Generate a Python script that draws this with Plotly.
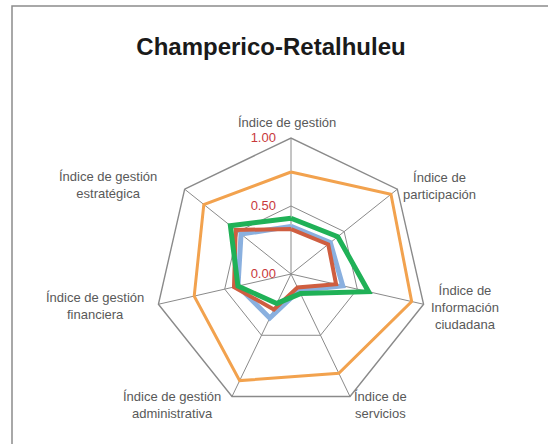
import math
import plotly.graph_objects as go

categories = [
    "Índice de gestión",
    "Índice de<br>participación",
    "Índice de<br>Información<br>ciudadana",
    "Índice de<br>servicios",
    "Índice de gestión<br>administrativa",
    "Índice de gestión<br>financiera",
    "Índice de gestión<br>estratégica",
]
serie_naranja = [0.75, 0.94, 0.91, 0.81, 0.87, 0.73, 0.82]
serie_azul = [0.35, 0.37, 0.39, 0.135, 0.36, 0.40, 0.47]
serie_roja = [0.33, 0.35, 0.34, 0.11, 0.29, 0.43, 0.52]
serie_verde = [0.41, 0.44, 0.585, 0.16, 0.24, 0.40, 0.57]
tick_vals = [0, 0.5, 1.0]
tick_text = ["0.00", "0.50", "1.00"]

W, H = 548, 444
cx, cy, R = 291, 274, 136

fig = go.Figure()
styles = [
    ("Serie 1", serie_naranja, "#F2A24E", 3),
    ("Serie 2", serie_azul, "#8AB0DF", 5),
    ("Serie 3", serie_roja, "#CF5E40", 4),
    ("Serie 4", serie_verde, "#20B157", 5),
]
for name, vals, color, w in styles:
    fig.add_trace(go.Scatterpolar(
        r=vals + vals[:1], theta=categories + categories[:1],
        mode="lines", name=name, line=dict(color=color, width=w),
        hoverinfo="skip",
    ))

# category label placement (anchor, pixel shift from the outer vertex)
label_style = [
    ("center", "bottom", -4, 6),
    ("left", "middle", 4, 3),
    ("left", "middle", 5, -3),
    ("left", "middle", 2, -8),
    ("right", "middle", -9, -8),
    ("right", "middle", -12, -2),
    ("right", "middle", -26, 4),
]
annotations = []
n = len(categories)
for k, (lab, (xa, ya, dx, dy)) in enumerate(zip(categories, label_style)):
    ang = 2 * math.pi * k / n
    vx = cx + R * math.sin(ang)
    vy = cy - R * math.cos(ang)
    annotations.append(dict(
        text=lab, xref="paper", yref="paper",
        x=vx / W, y=1 - vy / H, xanchor=xa, yanchor=ya,
        xshift=dx, yshift=dy, showarrow=False, align="center",
        font=dict(size=13, color="#595959"),
    ))

fig.update_layout(
    width=W, height=H,
    margin=dict(l=0, r=0, t=0, b=0),
    paper_bgcolor="white",
    showlegend=False,
    font=dict(family="Liberation Sans, Arial, sans-serif"),
    title=dict(text="<b>Champerico-Retalhuleu</b>", x=271 / W, y=1 - 47 / H,
               xanchor="center", yanchor="middle",
               font=dict(size=24, color="#1a1a1a")),
    polar=dict(
        domain=dict(x=[(cx - R) / W, (cx + R) / W],
                    y=[(H - cy - R) / H, (H - cy + R) / H]),
        gridshape="linear",
        bgcolor="white",
        angularaxis=dict(direction="clockwise", rotation=90,
                         showline=True, linecolor="#8a8a8a", linewidth=1.4,
                         gridcolor="#8a8a8a", gridwidth=1.4,
                         ticks="", showticklabels=False),
        radialaxis=dict(range=[0, 1], tickvals=tick_vals, ticktext=tick_text,
                        angle=90, side="counterclockwise", tickangle=90,
                        showline=False, ticks="outside", ticklen=10,
                        tickcolor="rgba(0,0,0,0)",
                        gridcolor="#8a8a8a", gridwidth=1.4,
                        tickfont=dict(size=13, color="#C8393B")),
    ),
    annotations=annotations,
    shapes=[dict(type="rect", xref="paper", yref="paper",
                 x0=12 / W, x1=1.05, y0=-0.05, y1=1 - 6 / H,
                 line=dict(color="#8c8c8c", width=1.5))],
)
fig.write_html("out.html", config={"displayModeBar": False},
               post_script="document.body.style.margin='0';")
